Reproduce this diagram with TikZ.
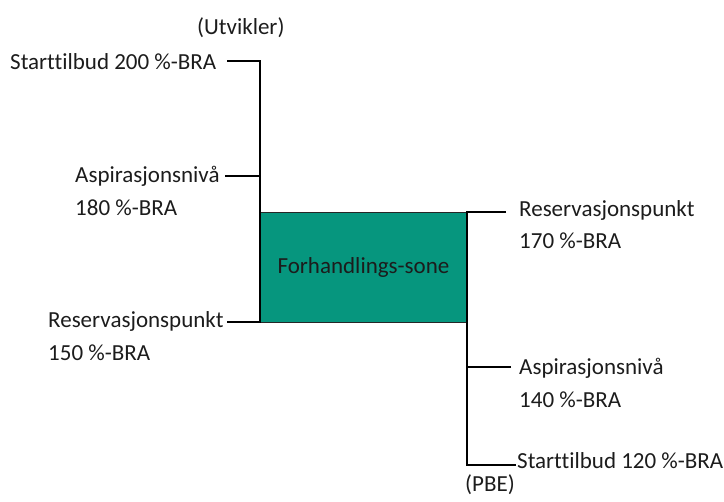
\documentclass[tikz,border=0pt]{standalone}
\usepackage{fontspec}
\setmainfont{Carlito}[Ligatures=NoCommon]
\definecolor{zone}{RGB}{6,150,126}
\definecolor{ink}{RGB}{28,28,28}
\tikzset{
  lbl/.style={anchor=base west, inner sep=0pt, font=\fontsize{23}{28}\selectfont, text=ink},
  conn/.style={line width=2.2pt, draw=black},
  zonebox/.style={draw=black!85, line width=1pt, fill=zone, anchor=north west,
    minimum width=206pt, minimum height=110pt, inner sep=0pt,
    font=\fontsize{23}{28}\selectfont, text=ink}
}
\begin{document}
\begin{tikzpicture}[x=1pt,y=-1pt]
\useasboundingbox (0,0) rectangle (724,502);
% labels
\node[lbl] (ut) at (197,35) {(Utvikler)};
\node[lbl] (s200) at (10,70) {Starttilbud 200 \%-BRA};
\node[lbl] (asp1a) at (75,183) {Aspirasjonsnivå};
\node[lbl] (asp1b) at (75,216) {180 \%-BRA};
\node[lbl] (res1a) at (48,328) {Reservasjonspunkt};
\node[lbl] (res1b) at (48,361) {150 \%-BRA};
\node[lbl] (res2a) at (519,217) {Reservasjonspunkt};
\node[lbl] (res2b) at (519,249) {170 \%-BRA};
\node[lbl] (asp2a) at (519,375) {Aspirasjonsnivå};
\node[lbl] (asp2b) at (519,408) {140 \%-BRA};
\node[lbl] (s120) at (517,469) {Starttilbud 120 \%-BRA};
\node[lbl] (pbe) at (465,492) {(PBE)};
% zone
\node[zonebox] (zone) at (260,212) {Forhandlings-sone};
% connector ends
\coordinate (lt) at (227,61);
\coordinate (lv) at (260,61);
\coordinate (la) at (225,176);
\coordinate (lr) at (227,322);
\coordinate (rt) at (506,212);
\coordinate (ra) at (511,367);
\coordinate (rb) at (516,465);
% connectors
\draw[conn] (lt) -- (lv) -- (lv |- zone.south west);
\draw[conn] (la) -- (la -| lv);
\draw[conn] (lr) -- (lr -| lv);
\draw[conn] (rt) -- (rt -| zone.east) -- (zone.east |- rb) -- (rb);
\draw[conn] (ra) -- (ra -| zone.east);
\end{tikzpicture}
\end{document}
